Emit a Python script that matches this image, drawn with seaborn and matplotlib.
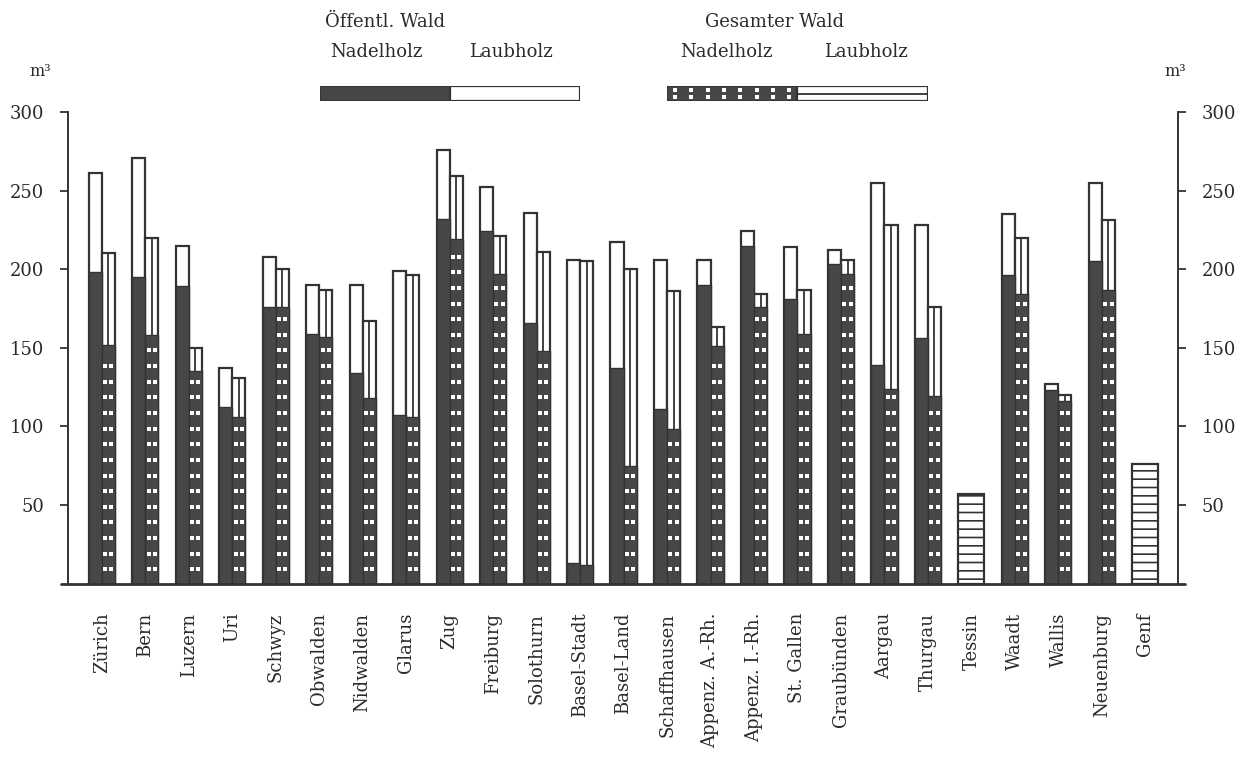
import numpy as np
import pandas as pd
import matplotlib
matplotlib.use("Agg")
import matplotlib.pyplot as plt
import seaborn as sns

# Holzvorrat je ha, Kantone
kantone = ['Zürich', 'Bern', 'Luzern', 'Uri', 'Schwyz', 'Obwalden', 'Nidwalden',
           'Glarus', 'Zug', 'Freiburg', 'Solothurn', 'Basel-Stadt', 'Basel-Land',
           'Schaffhausen', 'Appenz. A.-Rh.', 'Appenz. I.-Rh.', 'St. Gallen',
           'Graubünden', 'Aargau', 'Thurgau', 'Tessin', 'Waadt', 'Wallis',
           'Neuenburg', 'Genf']
nan = np.nan
oeff_total = [261, 271, 215, 137, 208, 190, 190, 199, 276, 252, 236, 206, 217,
              206, 206, 224, 214, 212, 255, 228, nan, 235, 127, 255, nan]
oeff_nadel = [198, 195, 189, 112, 176, 159, 134, 107, 232, 224, 166, 13, 137,
              111, 190, 215, 181, 203, 139, 156, nan, 196, 123, 205, nan]
ges_total = [210, 220, 150, 131, 200, 187, 167, 196, 259, 221, 211, 205, 200,
             186, 163, 184, 187, 206, 228, 176, nan, 220, 120, 231, nan]
ges_nadel = [152, 158, 135, 106, 176, 157, 118, 106, 219, 197, 148, 12, 75,
             98, 151, 176, 159, 197, 124, 119, nan, 184, 116, 187, nan]
# nur Gesamtwert (Tessin, Genf)
nur_total = [nan] * 20 + [57] + [nan] * 3 + [76]

wald = ['Öffentl. Wald', 'Gesamter Wald']
dunkel = '#474747'
linie = '#333333'

sns.set_theme(style='white')
plt.rcParams['font.family'] = ['DejaVu Serif', 'DejaVu Sans']
plt.rcParams['text.color'] = '#2b2b2b'
plt.rcParams['hatch.linewidth'] = 1.2


def long_df(a, b):
    rows = []
    for k, va, vb in zip(kantone, a, b):
        if not np.isnan(va):
            rows.append((k, wald[0], va))
            rows.append((k, wald[1], vb))
    return pd.DataFrame(rows, columns=['Kanton', 'Wald', 'm3'])


df_total = long_df(oeff_total, ges_total)
df_nadel = long_df(oeff_nadel, ges_nadel)
df_einzel = pd.DataFrame({'Kanton': kantone, 'm3': nur_total}).dropna()

fig = plt.figure(figsize=(12.43, 7.80), dpi=100)
ax = fig.add_axes([68 / 1243, (780 - 583.5) / 780, 1110 / 1243, 471.5 / 780])

common = dict(x='Kanton', y='m3', order=kantone, errorbar=None, saturation=1,
              ax=ax)
sns.barplot(data=df_total, hue='Wald', hue_order=wald, palette=['white', 'white'],
            width=0.6, edgecolor=linie, linewidth=1.6, legend=False, **common)
sns.barplot(data=df_nadel, hue='Wald', hue_order=wald, palette=[dunkel, dunkel],
            width=0.6, edgecolor=linie, linewidth=1.0, legend=False, **common)
sns.barplot(data=df_einzel, color='white', width=0.6, edgecolor=linie,
            linewidth=1.6, hatch='--', **common)

# Muster: Gesamter Wald Laubholz = Mittellinie, Nadelholz = weisse Punkte
for i in range(len(kantone)):
    if np.isnan(ges_total[i]):
        continue
    xc = i + 0.15
    ax.vlines(xc, ges_nadel[i], ges_total[i], color=linie, lw=1.3)
    ys = np.arange(9, ges_nadel[i] - 4, 9.95)
    ax.scatter(np.r_[np.full(len(ys), xc - 0.072), np.full(len(ys), xc + 0.072)],
               np.r_[ys, ys], marker='s', s=9.5, color='white', linewidths=0,
               zorder=5)

ax.set_xlim(-0.775, 24.75)
ax.set_ylim(0, 300)
ax.set_xlabel('')
ax.set_ylabel('')
ax.set_yticks([50, 100, 150, 200, 250, 300])
ax.tick_params(axis='y', left=True, right=True, labelleft=True, labelright=True,
               direction='out', length=6, width=1.3, color=linie, labelsize=13,
               pad=11, labelcolor='#2b2b2b')
ax.tick_params(axis='x', length=0, pad=21, labelsize=13, labelcolor='#2b2b2b')
ax.set_xticks(range(len(kantone)))
ax.set_xticklabels(kantone, rotation=90)

for s in ['left', 'right']:
    ax.spines[s].set_color(linie)
    ax.spines[s].set_linewidth(1.4)
ax.spines['top'].set_visible(False)
ax.spines['bottom'].set_visible(False)
ax.axhline(0, xmin=-0.006, xmax=1.006, color=linie, lw=2, clip_on=False)

# Einheiten
fig.text(40 / 1243, 1 - 72 / 780, 'm³', ha='center', va='center', fontsize=11.5)
fig.text(1175 / 1243, 1 - 72 / 780, 'm³', ha='center', va='center', fontsize=11.5)

# Legende oben
kw = dict(ha='center', va='center', fontsize=13)
fig.text(385 / 1243, 1 - 22 / 780, 'Öffentl. Wald', **kw)
fig.text(376 / 1243, 1 - 52 / 780, 'Nadelholz', **kw)
fig.text(511 / 1243, 1 - 52 / 780, 'Laubholz', **kw)
fig.text(775 / 1243, 1 - 22 / 780, 'Gesamter Wald', **kw)
fig.text(726 / 1243, 1 - 52 / 780, 'Nadelholz', **kw)
fig.text(866 / 1243, 1 - 52 / 780, 'Laubholz', **kw)

lg1 = fig.add_axes([320 / 1243, 1 - 101 / 780, 260 / 1243, 15 / 780])
lg1.barh(0.5, 1, left=0, height=1, color=dunkel, edgecolor=linie, lw=1.2)
lg1.barh(0.5, 1, left=1, height=1, color='white', edgecolor=linie, lw=1.6)
lg2 = fig.add_axes([667 / 1243, 1 - 101 / 780, 261 / 1243, 15 / 780])
lg2.barh(0.5, 1, left=0, height=1, color=dunkel, edgecolor=linie, lw=1.2)
lg2.barh(0.5, 1, left=1, height=1, color='white', edgecolor=linie, lw=1.6)
lg2.hlines(0.5, 1, 2, color=linie, lw=1.3)
dx = (np.arange(8) + 0.5) / 8
lg2.scatter(np.r_[dx, dx], np.r_[np.full(8, 0.27), np.full(8, 0.73)], marker='s',
            s=9.5, color='white', linewidths=0, zorder=5)
for lg in (lg1, lg2):
    lg.set_xlim(0, 2)
    lg.set_ylim(0, 1)
    lg.axis('off')

fig.savefig('out.png', dpi=100)
